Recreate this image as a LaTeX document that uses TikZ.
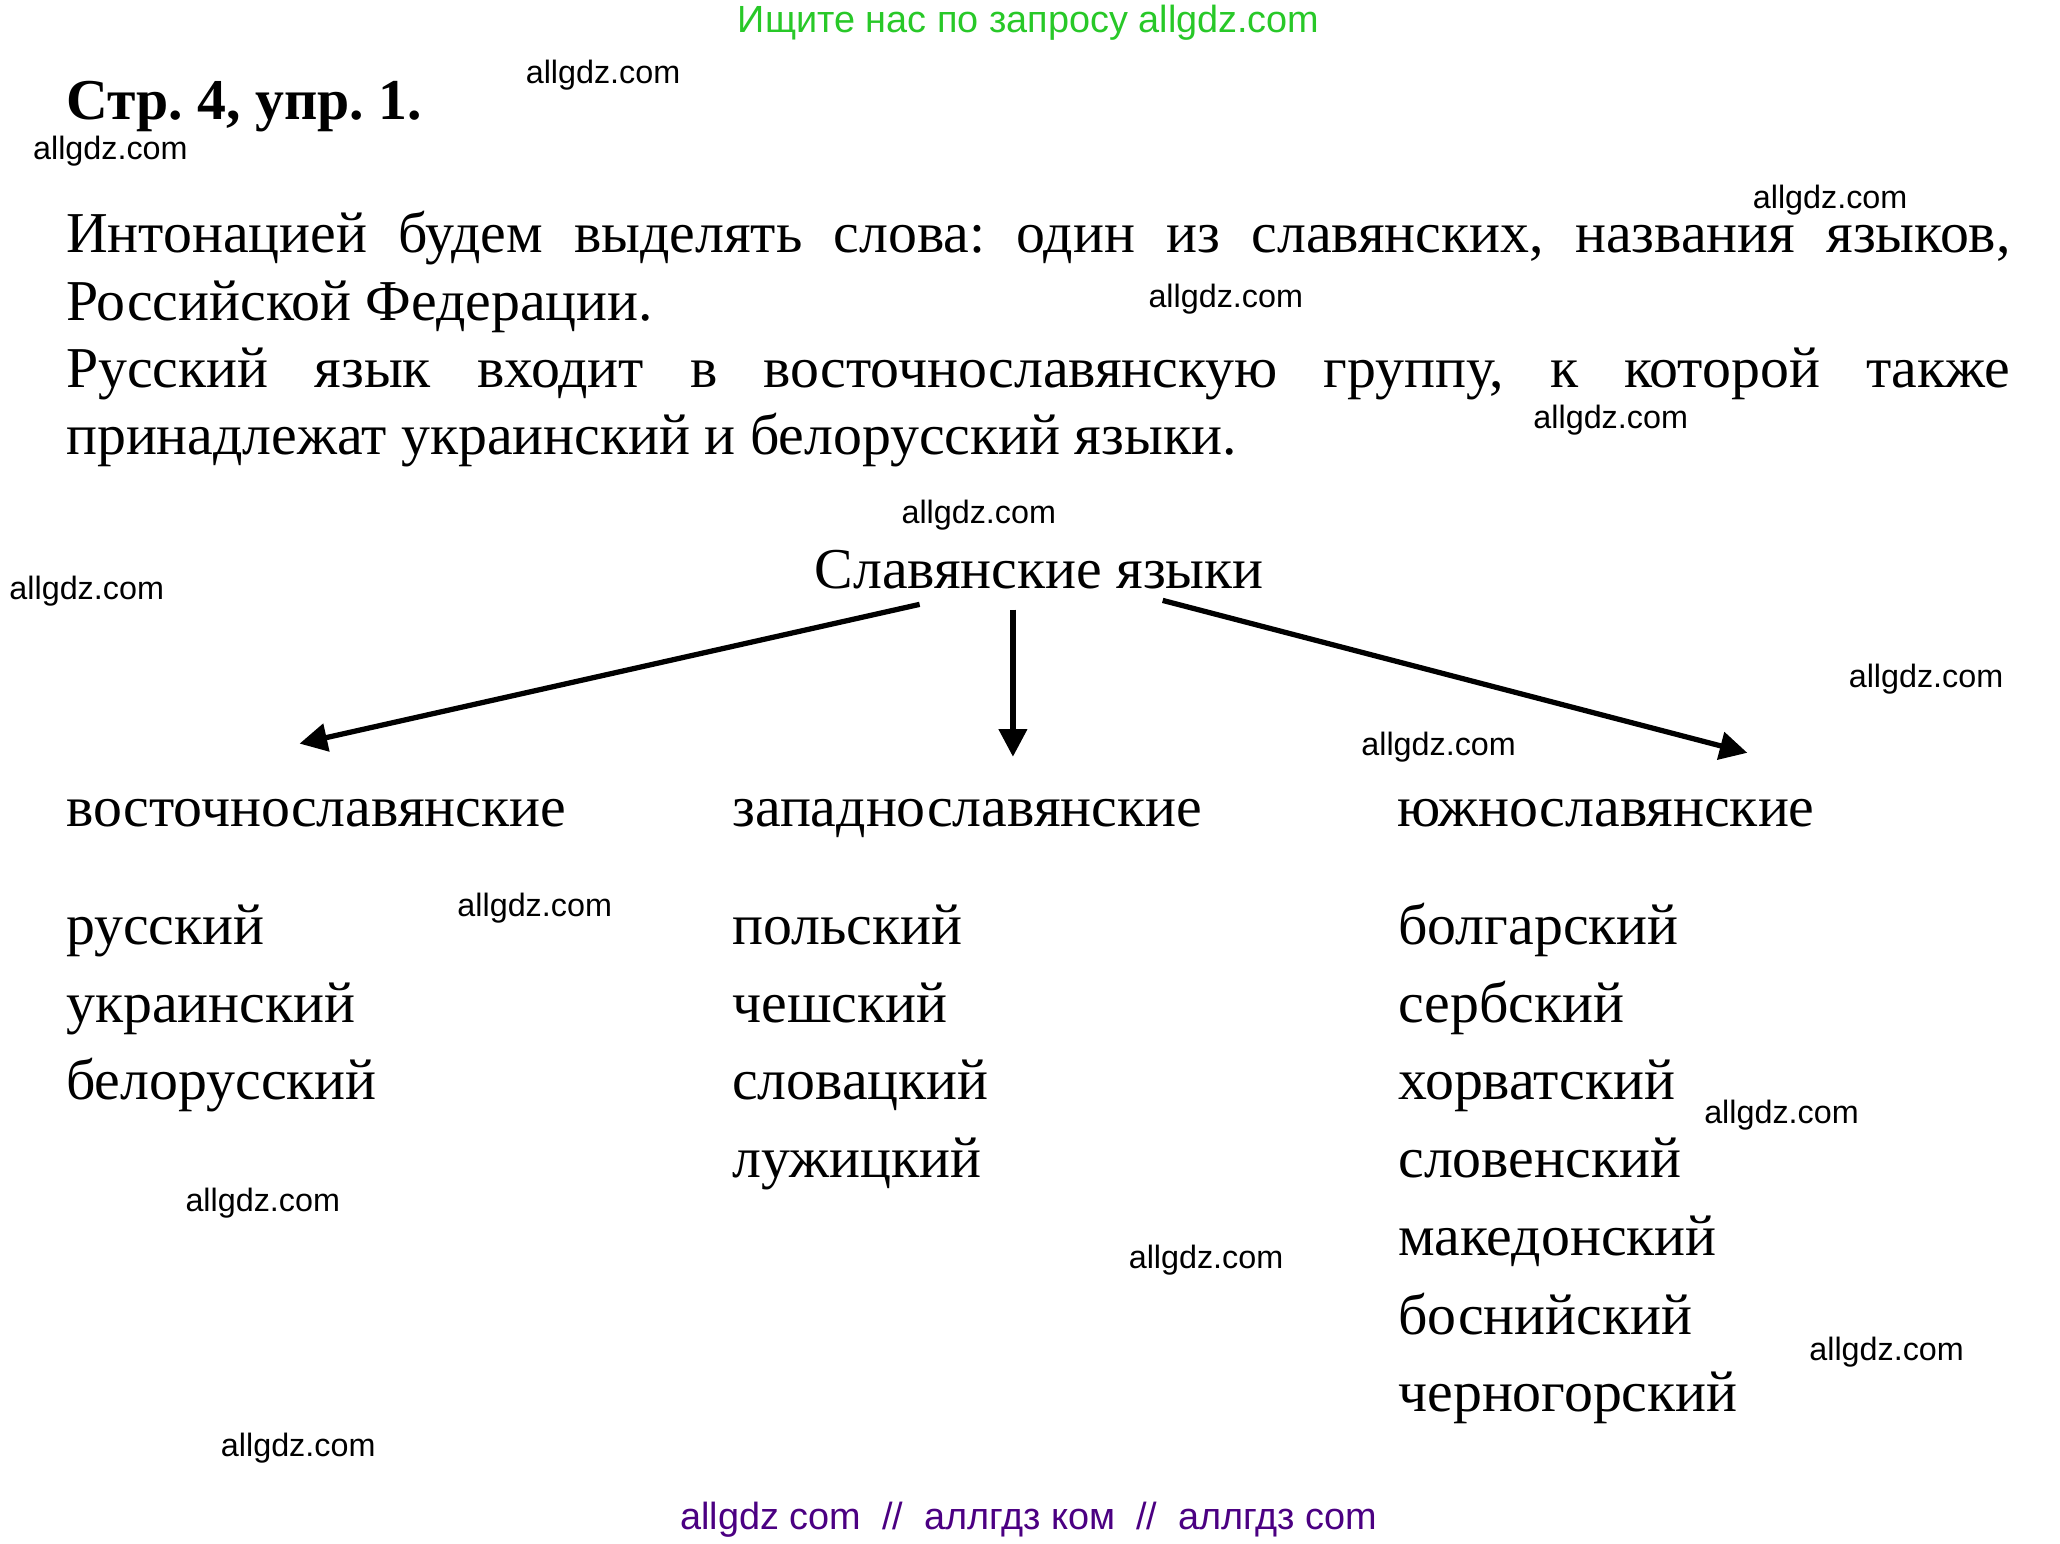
\documentclass[tikz,border=0pt]{standalone}
\usepackage{fontspec}
\setmainfont{Liberation Serif}
\newfontfamily\wmfont{Liberation Sans}
\usetikzlibrary{arrows.meta}
\definecolor{searchgreen}{RGB}{40,200,40}
\definecolor{sitepurple}{RGB}{75,0,130}
\frenchspacing
\def\bodyfont{\fontsize{22}{26}\selectfont}
\def\markfont{\wmfont\fontsize{12.3}{14}\selectfont}
\def\bannerfont{\wmfont\fontsize{14.4}{17}\selectfont}

\begin{document}
\begin{tikzpicture}[x=0.5pt, y=-0.5pt,
	txt/.style={anchor=base west, inner sep=0, font=\bodyfont},
	wmark/.style={inner sep=0, font=\markfont},
	arr/.style={line width=2pt, -{Triangle[length=10.5pt, width=10.5pt]}}]
		%%%%% START %%%%%
		\useasboundingbox (0, 0) rectangle (1568, 1175);
		
		\node[anchor=base, inner sep=0, font=\bannerfont, color=searchgreen] (search) at (783, 24.5) {Ищите нас по запросу allgdz.com};
		\node[txt, font=\bodyfont\bfseries] (title) at (50, 91) {Стр. 4, упр. 1.};
		
		\node[txt] (line1) at (50, 192.5) {\makebox[740pt][s]{Интонацией будем выделять слова: один из славянских, названия языков,}};
		\node[txt] (line2) at (50, 244) {Российской Федерации.};
		\node[txt] (line3) at (50, 295) {\makebox[740pt][s]{Русский язык входит в восточнославянскую группу, к которой также}};
		\node[txt] (line4) at (50, 346) {принадлежат украинский и белорусский языки.};
		
		\node[txt, anchor=base] (slavic) at (791, 448) {Славянские языки};
		
		\node[txt] (east) at (50, 629) {восточнославянские};
		\node[txt] (west) at (557, 629) {западнославянские};
		\node[txt] (south) at (1063, 629) {южнославянские};
		
		\node[txt] (east1) at (50, 719) {русский};
		\node[txt] (east2) at (50, 778) {украинский};
		\node[txt] (east3) at (50, 837) {белорусский};
		
		\node[txt] (west1) at (557, 719) {польский};
		\node[txt] (west2) at (557, 778) {чешский};
		\node[txt] (west3) at (557, 837) {словацкий};
		\node[txt] (west4) at (557, 896.5) {лужицкий};
		
		\node[txt] (south1) at (1064, 719) {болгарский};
		\node[txt] (south2) at (1064, 778) {сербский};
		\node[txt] (south3) at (1064, 837) {хорватский};
		\node[txt] (south4) at (1064, 896.5) {словенский};
		\node[txt] (south5) at (1064, 956) {македонский};
		\node[txt] (south6) at (1064, 1016) {боснийский};
		\node[txt] (south7) at (1064, 1074.5) {черногорский};
		
		% arrow ends
		\coordinate (eastFrom) at (700, 460);
		\coordinate (eastTip) at (228, 566);
		\coordinate (westFrom) at (771, 464);
		\coordinate (westTip) at (771, 576);
		\coordinate (southFrom) at (885, 457);
		\coordinate (southTip) at (1330, 573);
		\draw[arr] (eastFrom) -- (eastTip);
		\draw[arr] (westFrom) -- (westTip);
		\draw[arr] (southFrom) -- (southTip);
		
		% watermarks
		\node[wmark] (wm1) at (459, 57) {allgdz.com};
		\node[wmark] (wm2) at (84, 115) {allgdz.com};
		\node[wmark] (wm3) at (1393, 152) {allgdz.com};
		\node[wmark] (wm4) at (933, 228) {allgdz.com};
		\node[wmark] (wm5) at (1226, 320) {allgdz.com};
		\node[wmark] (wm6) at (745, 392) {allgdz.com};
		\node[wmark] (wm7) at (66, 450) {allgdz.com};
		\node[wmark] (wm8) at (1466, 517) {allgdz.com};
		\node[wmark] (wm9) at (1095, 569) {allgdz.com};
		\node[wmark] (wm10) at (407, 691) {allgdz.com};
		\node[wmark] (wm11) at (1356, 849) {allgdz.com};
		\node[wmark] (wm12) at (200, 916) {allgdz.com};
		\node[wmark] (wm13) at (918, 959) {allgdz.com};
		\node[wmark] (wm14) at (1436, 1029) {allgdz.com};
		\node[wmark] (wm15) at (227, 1102) {allgdz.com};
		
		\node[anchor=base, inner sep=0, font=\bannerfont, color=sitepurple] (site) at (783, 1164) {allgdz com~~//~~аллгдз ком~~//~~аллгдз com};
		%%%%% END %%%%%
	\end{tikzpicture}
\end{document}
